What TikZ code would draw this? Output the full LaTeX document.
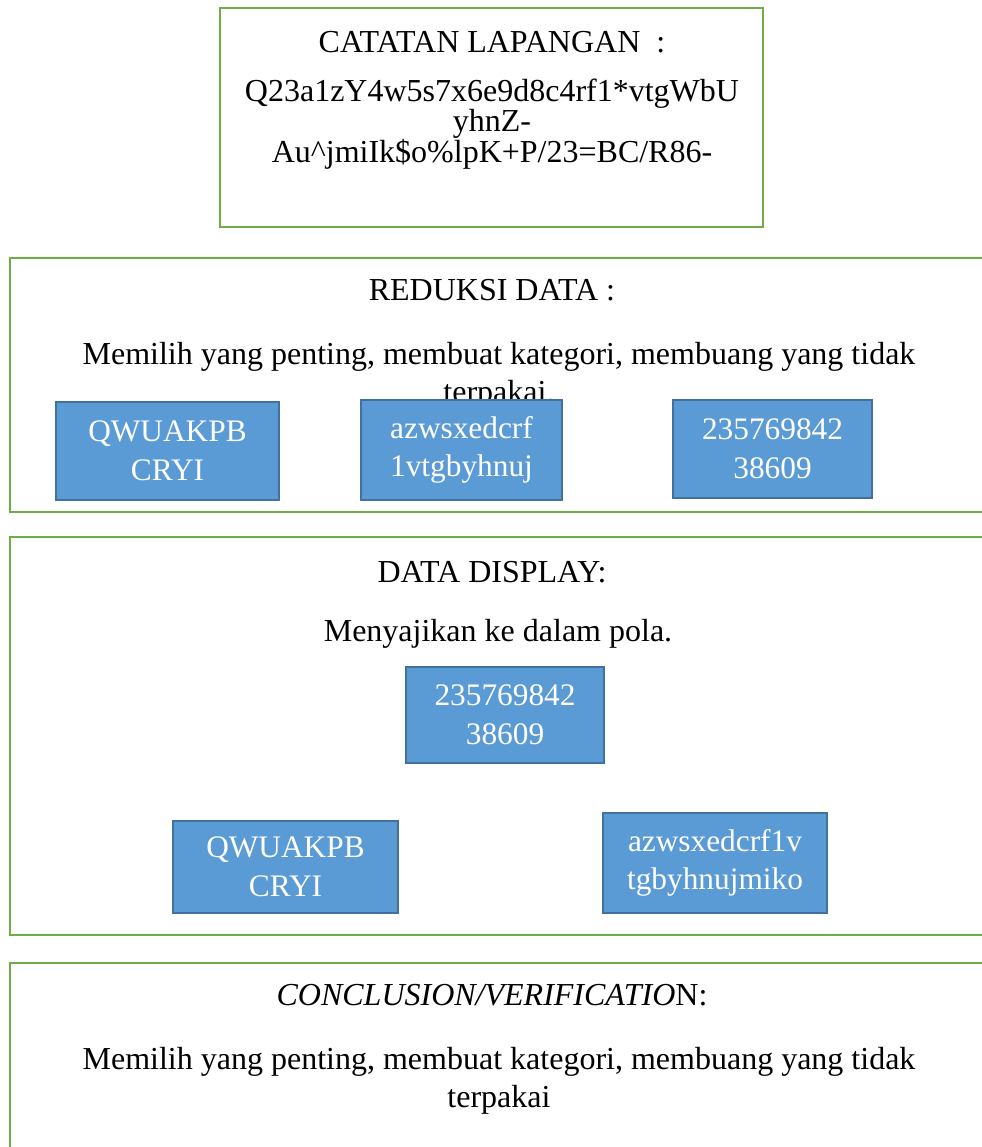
\documentclass[tikz,border=0pt]{standalone}
\usepackage{fontspec}
\setmainfont{Liberation Serif}
\usetikzlibrary{positioning}
\definecolor{panelgreen}{HTML}{70AD47}
\definecolor{boxblue}{HTML}{5B9BD5}
\definecolor{boxedge}{HTML}{41719C}
\begin{document}
\begin{tikzpicture}[x=0.75pt,y=-0.75pt,
  panel/.style={draw=panelgreen,line width=2.2pt},
  caption/.style={font=\fontsize{24}{28.5}\selectfont,align=center,inner sep=0pt},
  itembox/.style={fill=boxblue,draw=boxedge,line width=1.6pt,text=white,
    align=center,font=\fontsize{23.5}{29}\selectfont,inner sep=0pt}]
\useasboundingbox (0,0) rectangle (982,1147);
\clip (0,0) rectangle (982,1147);
% field notes
\draw[panel] (220,8) rectangle (763,227);
\node[caption] (catatan) at (492,42) {CATATAN LAPANGAN\ \ :};
\node[caption,font=\fontsize{24}{23}\selectfont] (catatantext) at (492,124)
  {Q23a1zY4w5s7x6e9d8c4rf1*vtgWbU\\yhnZ-\\Au\^{}jmiIk\$o\%lpK+P/23=BC/R86-};
% data reduction
\draw[panel] (10,258) rectangle (1000,512);
\node[caption] (reduksi) at (492,290) {REDUKSI DATA :};
\node[caption] (reduksitext) at (499,376)
  {Memilih yang penting, membuat kategori, membuang yang tidak\\terpakai.};
\node[itembox,minimum width=167.25pt,minimum height=73.5pt] (redA) at (167.5,451) {QWUAKPB\\CRYI};
\node[itembox,minimum width=150.75pt,minimum height=75pt] (redB) at (461.5,450) {azwsxedcrf\\1vtgbyhnuj};
\node[itembox,minimum width=149.25pt,minimum height=73.5pt] (redC) at (772.5,449) {235769842\\38609};
% data display
\draw[panel] (10,537) rectangle (1000,935);
\node[caption] (display) at (492,572) {DATA DISPLAY:};
\node[caption] (displaytext) at (498,634) {Menyajikan ke dalam pola.};
\node[itembox,minimum width=148.5pt,minimum height=72pt] (dispC) at (505,715) {235769842\\38609};
\node[itembox,minimum width=168.75pt,minimum height=69pt] (dispA) at (285.5,867) {QWUAKPB\\CRYI};
\node[itembox,minimum width=168pt,minimum height=75pt] (dispB) at (715,863) {azwsxedcrf1v\\tgbyhnujmiko};
% conclusion
\draw[panel] (10,963) rectangle (1000,1200);
\node[caption] (conclusion) at (492,995) {\textit{CONCLUSION/VERIFICATIO}N:};
\node[caption] (conclusiontext) at (499,1081)
  {Memilih yang penting, membuat kategori, membuang yang tidak\\terpakai};
\end{tikzpicture}
\end{document}
